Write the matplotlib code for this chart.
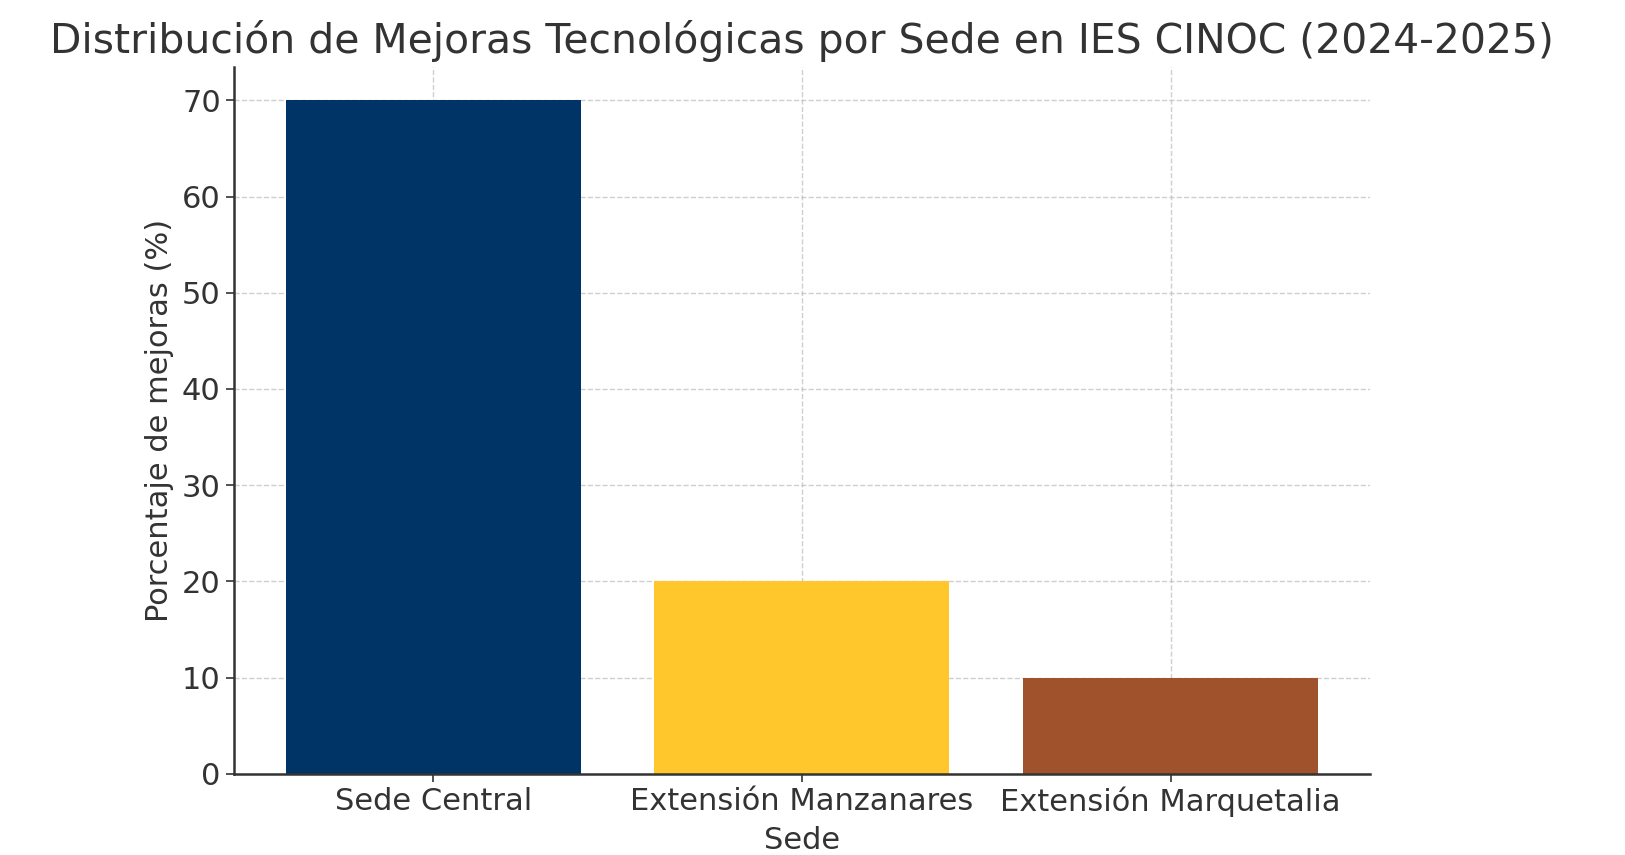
import matplotlib
matplotlib.use("Agg")
from matplotlib import pyplot as plt

# data
sedes = ["Sede Central", "Extensión Manzanares", "Extensión Marquetalia"]
porcentajes = [70, 20, 10]
colores = ["#003366", "#FFC72C", "#A0522D"]

plt.rcParams["font.family"] = ["DejaVu Sans"]
plt.rcParams["text.color"] = "#333333"
plt.rcParams["axes.labelcolor"] = "#333333"
plt.rcParams["xtick.color"] = "#333333"
plt.rcParams["ytick.color"] = "#333333"

fig = plt.figure(figsize=(16.25, 8.55), dpi=100)
ax = fig.add_axes([0.144, 0.095, 0.699, 0.827])

ax.bar(sedes, porcentajes, color=colores, width=0.8, zorder=2)
ax.set_ylim(0, 73.5)

ax.set_title("Distribución de Mejoras Tecnológicas por Sede en IES CINOC (2024-2025)",
             fontsize=29.4, pad=10)
ax.set_xlabel("Sede", fontsize=22, labelpad=6)
ax.set_ylabel("Porcentaje de mejoras (%)", fontsize=22, labelpad=6)
ax.tick_params(axis="both", labelsize=22, length=6, width=1.2)

ax.grid(True, linestyle="--", color="#bbbbbb", alpha=0.7, linewidth=1, zorder=3)
ax.spines["top"].set_visible(False)
ax.spines["right"].set_visible(False)
for s in ("left", "bottom"):
    ax.spines[s].set_linewidth(1.8)
    ax.spines[s].set_color("#333333")

fig.savefig("out.png", dpi=100)
plt.close()
